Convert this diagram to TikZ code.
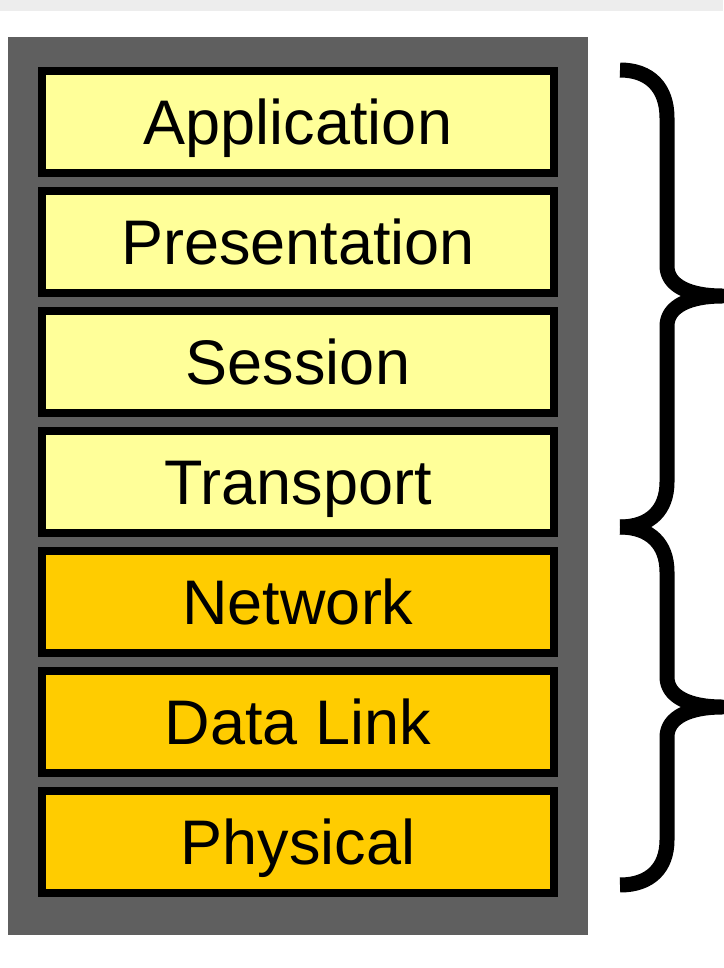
\documentclass[tikz,border=0pt]{standalone}
\usepackage{fontspec}
\setmainfont{Liberation Sans}
\definecolor{paleyellow}{HTML}{FFFF99}
\definecolor{gold}{HTML}{FFCC00}
\definecolor{frame}{HTML}{5F5F5F}
\definecolor{band}{HTML}{EDEDED}
\begin{document}
\begin{tikzpicture}[x=1pt,y=-1pt,
  layer/.style={draw=black, line width=8pt, minimum width=512pt, minimum height=102pt,
    inner sep=0pt, text height=45pt, text depth=0pt, font=\fontsize{63}{70}\selectfont},
  upper/.style={layer, fill=paleyellow},
  lower/.style={layer, fill=gold},
  bracestroke/.style={line width=15pt, line join=round}]
\useasboundingbox (0,0) rectangle (723,968);
\fill[white] (0,0) rectangle (723,968);
\fill[band] (0,0) rectangle (723,11);
\fill[frame] (8,37) rectangle (588,935);
\node[upper] (app) at (298,122) {Application};
\node[upper] (pres) at (298,242) {Presentation};
\node[upper] (sess) at (298,362) {Session};
\node[upper] (trans) at (298,482) {Transport};
\node[lower] (net) at (298,602) {Network};
\node[lower] (dl) at (298,722) {Data Link};
\node[lower] (phys) at (298,842) {Physical};
\coordinate (b1top) at (620,70);
\coordinate (b1tip) at (722,296);
\coordinate (b1bot) at (620,527);
\coordinate (b2tip) at (722,707);
\coordinate (b2bot) at (620,885);
\draw[bracestroke] (b1top) .. controls (650,70) and (667,88) .. (667,118)
  -- (667,266) .. controls (667,286) and (690,296) .. (b1tip)
  .. controls (690,296) and (667,306) .. (667,326)
  -- (667,482) .. controls (667,510) and (650,527) .. (b1bot);
\draw[bracestroke] (b1bot) .. controls (650,527) and (667,544) .. (667,572)
  -- (667,677) .. controls (667,697) and (690,707) .. (b2tip)
  .. controls (690,707) and (667,717) .. (667,737)
  -- (667,840) .. controls (667,868) and (650,885) .. (b2bot);
\end{tikzpicture}
\end{document}
